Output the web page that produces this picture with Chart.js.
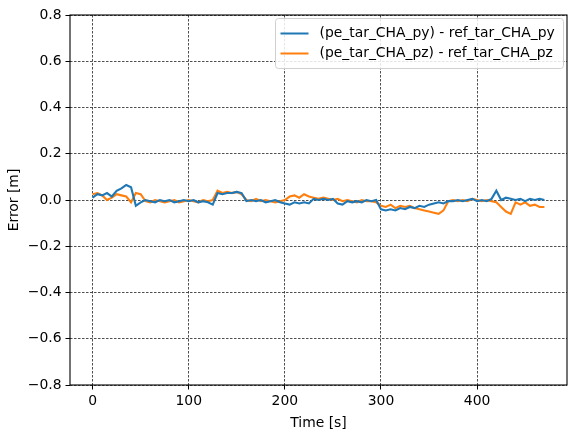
<!DOCTYPE html>
<html>
<head>
<meta charset="utf-8">
<script src="https://cdn.jsdelivr.net/npm/chart.js@4"></script>
<style>
  html, body { margin: 0; padding: 0; background: #fff; }
  #wrap { width: 568px; height: 432px; }
</style>
</head>
<body>
<div id="wrap"><canvas id="chart"></canvas></div>
<script>
const times = [0, 5, 10, 15, 20, 25, 30, 35, 40, 45, 50, 55, 60, 65, 70, 75, 80, 85, 90, 95,
  100, 105, 110, 115, 120, 125, 130, 135, 140, 145, 150, 155, 160, 165, 170, 175, 180, 185, 190, 195,
  200, 205, 210, 215, 220, 225, 230, 235, 240, 245, 250, 255, 260, 265, 270, 275, 280, 285, 290, 295,
  300, 305, 310, 315, 320, 325, 330, 335, 340, 345, 350, 355, 360, 365, 370, 375, 380, 385, 390, 395,
  400, 405, 410, 415, 420, 425, 430, 435, 440, 445, 450, 455, 460, 465, 470];

const errPy = [0.01, 0.025, 0.02, 0.03, 0.015, 0.04, 0.05, 0.065, 0.055, -0.025, -0.01, 0.0, -0.005, -0.01, 0.0, -0.005, 0.0, -0.01, -0.005, 0.0,
  -0.005, 0.0, -0.01, -0.005, -0.01, -0.02, 0.03, 0.025, 0.03, 0.03, 0.035, 0.03, -0.005, 0.0, -0.005, 0.0, -0.01, -0.005, 0.0, -0.01,
  -0.015, -0.02, -0.01, -0.015, -0.01, -0.015, 0.005, 0.0, 0.005, 0.0, 0.005, -0.015, -0.02, -0.005, -0.01, -0.005, -0.01, 0.0, -0.005, 0.0,
  -0.04, -0.045, -0.04, -0.045, -0.035, -0.04, -0.03, -0.035, -0.025, -0.03, -0.02, -0.015, -0.01, -0.015, -0.005, -0.005, 0.0, -0.005, 0.0, 0.005,
  -0.005, 0.0, -0.005, 0.005, 0.04, 0.0, 0.01, 0.005, 0.0, 0.005, -0.005, 0.005, 0.0, 0.005, 0.0];

const errPz = [0.025, 0.03, 0.02, 0.0, 0.01, 0.025, 0.02, 0.015, -0.01, 0.03, 0.025, -0.005, -0.01, 0.0, -0.005, -0.01, -0.005, 0.0, -0.01, -0.005,
  0.0, -0.005, -0.01, 0.0, -0.005, 0.0, 0.04, 0.03, 0.035, 0.03, 0.035, 0.025, 0.0, -0.005, 0.005, -0.005, 0.0, -0.005, -0.01, -0.005,
  0.0, 0.015, 0.02, 0.01, 0.025, 0.015, 0.01, 0.005, 0.01, 0.005, 0.0, 0.005, -0.005, 0.0, -0.005, -0.01, 0.0, -0.005, -0.005, -0.01,
  -0.025, -0.03, -0.02, -0.035, -0.025, -0.03, -0.025, -0.035, -0.04, -0.045, -0.05, -0.055, -0.06, -0.045, -0.005, 0.0, -0.005, 0.0, -0.005, 0.005,
  0.0, -0.005, 0.0, -0.005, -0.01, -0.03, -0.05, -0.06, -0.01, -0.02, -0.01, -0.025, -0.02, -0.03, -0.03];

const seriesLabels = ["(pe_tar_CHA_py) - ref_tar_CHA_py", "(pe_tar_CHA_pz) - ref_tar_CHA_pz"];
const xTicks = [0, 100, 200, 300, 400];

const font = "'DejaVu Sans', sans-serif";
const fontSize = 13.9;

function pts(ys) {
    return times.map((t, i) => ({ x: t, y: ys[i] }));
}

// frame + legend drawn like matplotlib
const framePlugin = {
    id: 'frame',
    afterDraw(chart) {
        const ctx = chart.ctx;
        const a = chart.chartArea;
        ctx.save();
        ctx.strokeStyle = '#000';
        ctx.lineWidth = 1.1;
        ctx.strokeRect(a.left, a.top, a.right - a.left, a.bottom - a.top);

        // legend box
        const bx = 275.5, by = 18.5, bw = 288, bh = 50;
        ctx.fillStyle = 'rgba(255,255,255,0.85)';
        ctx.strokeStyle = '#d0d0d0';
        ctx.lineWidth = 1;
        ctx.beginPath();
        ctx.roundRect(bx, by, bw, bh, 3);
        ctx.fill();
        ctx.stroke();
        ctx.font = fontSize + 'px ' + font;
        ctx.textBaseline = 'middle';
        chart.data.datasets.forEach((ds, i) => {
            const y = by + 15 + i * 20;
            ctx.strokeStyle = ds.borderColor;
            ctx.lineWidth = 2;
            ctx.beginPath();
            ctx.moveTo(bx + 5, y);
            ctx.lineTo(bx + 33, y);
            ctx.stroke();
            ctx.fillStyle = '#000';
            ctx.fillText(ds.label, bx + 44, y);
        });
        ctx.restore();
    }
};

const gridOpts = {
    color: '#222',
    lineWidth: 0.8,
    tickColor: '#000',
    tickLength: 4.5,
    tickWidth: 1,
    tickBorderDash: []
};

new Chart(document.getElementById('chart'), {
    type: 'line',
    data: {
        datasets: [{
            label: seriesLabels[0],
            data: pts(errPy),
            borderColor: '#1f77b4',
            borderWidth: 2.1,
            pointRadius: 0,
            tension: 0
        }, {
            label: seriesLabels[1],
            data: pts(errPz),
            borderColor: '#ff7f0e',
            borderWidth: 2.1,
            pointRadius: 0,
            tension: 0
        }]
    },
    options: {
        responsive: true,
        maintainAspectRatio: false,
        animation: false,
        layout: { padding: { top: 15, right: 1, left: 0, bottom: 0 } },
        plugins: {
            legend: { display: false },
            tooltip: { enabled: false }
        },
        scales: {
            x: {
                type: 'linear',
                min: -23.5,
                max: 493.5,
                afterBuildTicks: axis => { axis.ticks = xTicks.map(v => ({ value: v })); },
                afterFit: axis => { axis.height = 47; },
                grid: gridOpts,
                border: { display: false, dash: [2.5, 1.5] },
                ticks: {
                    color: '#000',
                    font: { family: font, size: fontSize },
                    padding: 4,
                    maxRotation: 0
                },
                title: {
                    display: true,
                    text: 'Time [s]',
                    color: '#000',
                    font: { family: font, size: fontSize },
                    padding: { top: 0, bottom: 0 }
                }
            },
            y: {
                min: -0.8,
                max: 0.8,
                afterFit: axis => { axis.width = 70; },
                grid: gridOpts,
                border: { display: false, dash: [2.5, 1.5] },
                ticks: {
                    stepSize: 0.2,
                    color: '#000',
                    font: { family: font, size: fontSize },
                    padding: 4,
                    callback: v => {
                        const s = Math.abs(v).toFixed(1);
                        return (v < -1e-9 ? '\u2212' : '') + s;
                    }
                },
                title: {
                    display: true,
                    text: 'Error [m]',
                    color: '#000',
                    font: { family: font, size: fontSize },
                    padding: { top: 6, bottom: 0 }
                }
            }
        }
    },
    plugins: [framePlugin]
});
</script>
</body>
</html>
